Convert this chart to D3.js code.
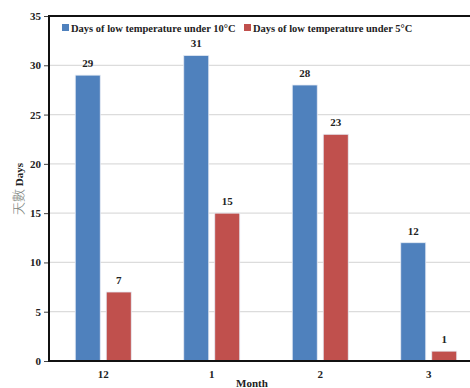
<!DOCTYPE html>
<html><head><meta charset="utf-8">
<script src="https://cdn.jsdelivr.net/npm/d3@7"></script>
<style>body{margin:0;background:#fff}svg{display:block}</style>
</head><body>
<svg id="c" width="470" height="388"></svg>
<script>
const months = ["12","1","2","3"];
const seriesNames = ["Days of low temperature under 10\u00B0C","Days of low temperature under 5\u00B0C"];
const under10 = [29,31,28,12];
const under5 = [7,15,23,1];
const yTicks = [0,5,10,15,20,25,30,35];
const colors = ["#4F81BD","#C0504D"];

const svg = d3.select("#c");
const L = 49, R = 483, T = 16, B = 361;
const serif = "Liberation Serif, serif";
const y = d3.scaleLinear().domain([0,35]).range([B,T]);
const x0 = d3.scaleBand().domain(months).range([L,R]).padding(0);
const bw = x0.bandwidth();
const x1 = d3.scaleBand().domain([0,1]).range([bw/2-28, bw/2+28]).paddingInner(6/31);

// gridlines
svg.append("g").selectAll("line").data(yTicks.filter(t=>t>0&&t<35)).join("line")
  .attr("x1",L).attr("x2",R).attr("y1",d=>y(d)).attr("y2",d=>y(d))
  .attr("stroke","#dcdcdc").attr("stroke-width",1.2);

// y axis
const ya = svg.append("g").attr("transform",`translate(${L},0)`)
  .call(d3.axisLeft(y).tickValues(yTicks).tickSize(5).tickPadding(3));
ya.select(".domain").remove();
ya.selectAll(".tick line").attr("stroke","#444");
ya.selectAll("text").attr("font-family",serif).attr("font-weight","bold").attr("font-size",11).attr("fill","#222");

// x axis labels
const xa = svg.append("g").attr("transform",`translate(0,${B})`)
  .call(d3.axisBottom(x0).tickSize(0).tickPadding(9));
xa.select(".domain").remove();
xa.selectAll("text").attr("font-family",serif).attr("font-weight","bold").attr("font-size",11).attr("fill","#222");

// bars
const data = months.map((m,i)=>({m, v:[under10[i],under5[i]]}));
const g = svg.append("g").selectAll("g").data(data).join("g")
  .attr("transform",d=>`translate(${x0(d.m)},0)`);
g.selectAll("rect").data(d=>d.v.map((v,k)=>({v,k}))).join("rect")
  .attr("x",d=>x1(d.k)).attr("width",x1.bandwidth())
  .attr("y",d=>y(d.v)).attr("height",d=>B-y(d.v))
  .attr("fill",d=>colors[d.k]).attr("stroke","#e6ecf4").attr("stroke-width",0.8);
g.selectAll("text").data(d=>d.v.map((v,k)=>({v,k}))).join("text")
  .attr("x",d=>x1(d.k)+x1.bandwidth()/2).attr("y",d=>y(d.v)-8)
  .attr("text-anchor","middle").attr("font-family",serif).attr("font-weight","bold")
  .attr("font-size",11).attr("fill","#222").text(d=>d.v);

// frame
svg.append("path").attr("d",`M${R},${T}H${L}V${B}H${R}`).attr("fill","none")
  .attr("stroke","#111").attr("stroke-width",2);

// legend
const lg = svg.append("g");
const lx = [62,244];
seriesNames.forEach((s,k)=>{
  lg.append("rect").attr("x",lx[k]).attr("y",24).attr("width",7).attr("height",7).attr("fill",colors[k]);
  lg.append("text").attr("x",lx[k]+9).attr("y",31.5).attr("font-family",serif).attr("font-weight","bold")
    .attr("font-size",10.5).attr("fill","#222").text(s);
});

// axis titles
const yt = svg.append("text").attr("transform","translate(23,189) rotate(-90)").attr("text-anchor","middle");
yt.append("tspan").attr("font-family","Noto Sans CJK TC, sans-serif").attr("font-size",13).attr("fill","#7d8580").attr("font-weight",300).text("天數 ");
yt.append("tspan").attr("font-family",serif).attr("font-weight","bold").attr("font-size",11).attr("fill","#222").text("Days");
svg.append("text").attr("x",252).attr("y",387).attr("text-anchor","middle").attr("font-family",serif)
  .attr("font-weight","bold").attr("font-size",11).attr("fill","#222").text("Month");
</script>
</body></html>
